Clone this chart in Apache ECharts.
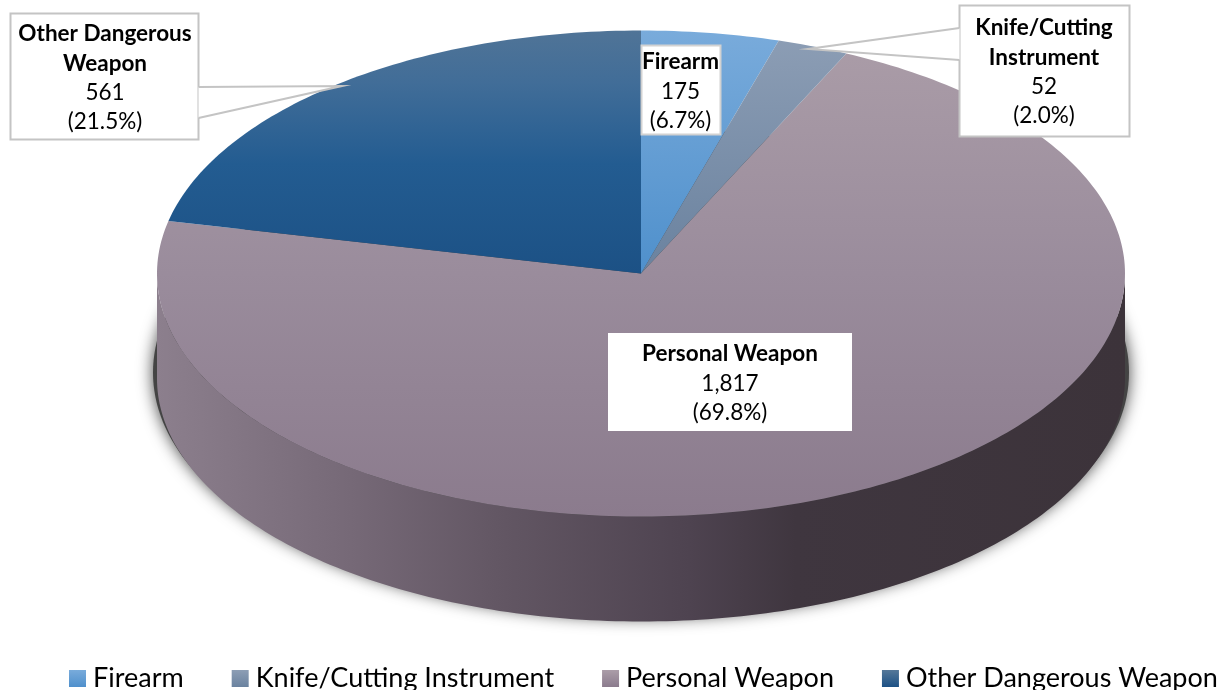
<!DOCTYPE html>
<html><head><meta charset="utf-8">
<style>html,body{margin:0;padding:0;background:#fff}#c{width:1227px;height:690px}</style>
<script src="https://cdn.jsdelivr.net/npm/echarts@6/dist/echarts.min.js"></script>
</head><body><div id="c"></div>
<script>
const categories = ['Firearm', 'Knife/Cutting Instrument', 'Personal Weapon', 'Other Dangerous Weapon'];
const counts = [175, 52, 1817, 561];
const percentLabels = ['6.7%', '2.0%', '69.8%', '21.5%'];
const labelNames = [['Firearm'], ['Knife/Cutting', 'Instrument'], ['Personal Weapon'], ['Other Dangerous', 'Weapon']];

const CX = 641, CY = 273.5, RX = 484, RY = 243, DEPTH = 105;
const FONT = 'Lato';
const total = counts.reduce((a, b) => a + b, 0);

// The source is a perspective 3D pie: near the top the drawn wedges are foreshortened.
function view(deg) {
  return deg < 45 ? deg - 7.7 * Math.sin(4 * deg * Math.PI / 180) : deg;
}
function rim(deg, dy) {
  const t = deg * Math.PI / 180;
  return [CX + RX * Math.sin(t), CY + (dy || 0) - RY * Math.cos(t)];
}
function arc(a, b, dy) {
  const pts = [], n = Math.max(2, Math.ceil(Math.abs(b - a)));
  for (let i = 0; i <= n; i++) pts.push(rim(a + (b - a) * i / n, dy));
  return pts;
}
function vGrad(y0, y1, stops) {
  return { type: 'linear', x: 0, y: y0, x2: 0, y2: y1, global: true,
    colorStops: stops.map(c => ({ offset: c[0], color: c[1] })) };
}
const topFills = [
  vGrad(30, 273, [[0, '#79abdb'], [1, '#4f90cc']]),
  vGrad(30, 273, [[0, '#8d9eb5'], [1, '#6a829f']]),
  vGrad(30, 516, [[0, '#ab9da8'], [0.5, '#9a8c9c'], [1, '#8b7b8d']]),
  vGrad(30, 273, [[0, '#507497'], [0.22, '#416d98'], [0.55, '#235c91'], [1, '#1c5185']])
];
const legendFills = [
  { type: 'linear', x: 0, y: 0, x2: 0, y2: 1, colorStops: [{ offset: 0, color: '#79abdb' }, { offset: 1, color: '#4f90cc' }] },
  { type: 'linear', x: 0, y: 0, x2: 0, y2: 1, colorStops: [{ offset: 0, color: '#8d9eb5' }, { offset: 1, color: '#6a829f' }] },
  { type: 'linear', x: 0, y: 0, x2: 0, y2: 1, colorStops: [{ offset: 0, color: '#ab9da8' }, { offset: 1, color: '#8b7b8d' }] },
  { type: 'linear', x: 0, y: 0, x2: 0, y2: 1, colorStops: [{ offset: 0, color: '#557899' }, { offset: 1, color: '#1c5185' }] }
];
const wallFill = { type: 'linear', x: 157, y: 0, x2: 1125, y2: 0, global: true, colorStops: [
  { offset: 0, color: '#8c7f8d' }, { offset: 0.2, color: '#766977' }, { offset: 0.35, color: '#635764' },
  { offset: 0.55, color: '#4e4350' }, { offset: 0.66, color: '#3f363f' }, { offset: 1, color: '#3c333a' }] };

function renderSlice(index) {
  return function () {
    const before = counts.slice(0, index).reduce((a, b) => a + b, 0);
    const a = view(before / total * 360), b = view((before + counts[index]) / total * 360);
    const children = [];
    if (index === 2) {
      children.push({ type: 'ellipse', shape: { cx: CX, cy: CY + 99, rx: 488, ry: 245 },
        style: { fill: '#444', shadowBlur: 16, shadowColor: '#444' } });
      children.push({ type: 'polygon', shape: { points: arc(90, 270, 0).concat(arc(270, 90, DEPTH)) },
        style: { fill: wallFill } });
    }
    children.push({ type: 'polygon', shape: { points: [[CX, CY]].concat(arc(a, b, 0)) },
      style: { fill: topFills[index] } });
    return { type: 'group', children };
  };
}

const series = [2, 0, 1, 3].map(i => ({
  type: 'custom', name: categories[i], coordinateSystem: 'none', silent: true, clip: false,
  animation: false, itemStyle: { color: legendFills[i] },
  data: [{ name: categories[i], value: counts[i] }], renderItem: renderSlice(i)
}));

function textEl(str, x, y, bold) {
  return { type: 'text', z: 102, x, y, silent: true, style: { text: str, fill: '#000', font: (bold ? 'bold ' : '') + '22.5px ' + FONT, align: 'center', verticalAlign: 'middle' } };
}
const layouts = [
  { box: [641.5, 45.5, 79, 89], center: 680.5, firstY: 62, border: '#d2d2d2' },
  { box: [959.5, 5.5, 170, 131], center: 1044, firstY: 28, border: '#c4c4c4', root: [[959.5, 28], [808, 49], [959.5, 60]] },
  { box: [608, 333, 244, 98], center: 730, firstY: 354, border: null },
  { box: [10.5, 13.5, 188, 126], center: 105, firstY: 34, border: '#c4c4c4', root: [[198.5, 87], [342, 86], [198.5, 118]] }
];
const graphic = [];
layouts.forEach((l, i) => {
  graphic.push({ type: 'rect', z: 100, silent: true, shape: { x: l.box[0], y: l.box[1], width: l.box[2], height: l.box[3] },
    style: { fill: '#fff', stroke: l.border, lineWidth: l.border ? 2 : 0 } });
  if (l.root) {
    graphic.push({ type: 'polygon', z: 101, silent: true, shape: { points: l.root }, style: { fill: '#fff', stroke: 'none' } });
    graphic.push({ type: 'polyline', z: 101, silent: true, shape: { points: l.root }, style: { fill: 'none', stroke: '#c4c4c4', lineWidth: 2 } });
  }
  const lines = labelNames[i].map(s => [s, true]).concat([[counts[i].toLocaleString('en-US'), false], ['(' + percentLabels[i] + ')', false]]);
  lines.forEach((ln, k) => graphic.push(textEl(ln[0], l.center, l.firstY + k * 29.4, ln[1])));
});

const chart = echarts.init(document.getElementById('c'), null, { renderer: 'canvas' });
chart.setOption({
  animation: false,
  backgroundColor: '#fff',
  legend: { data: categories, left: 69, top: 665, width: 1158, padding: 0, itemWidth: 17, itemHeight: 17, itemGap: 48, icon: 'rect',
    textStyle: { fontFamily: FONT, fontSize: 27, color: '#000', padding: [0, 0, 0, 2] }, selectedMode: false },
  series, graphic
});
</script></body></html>
